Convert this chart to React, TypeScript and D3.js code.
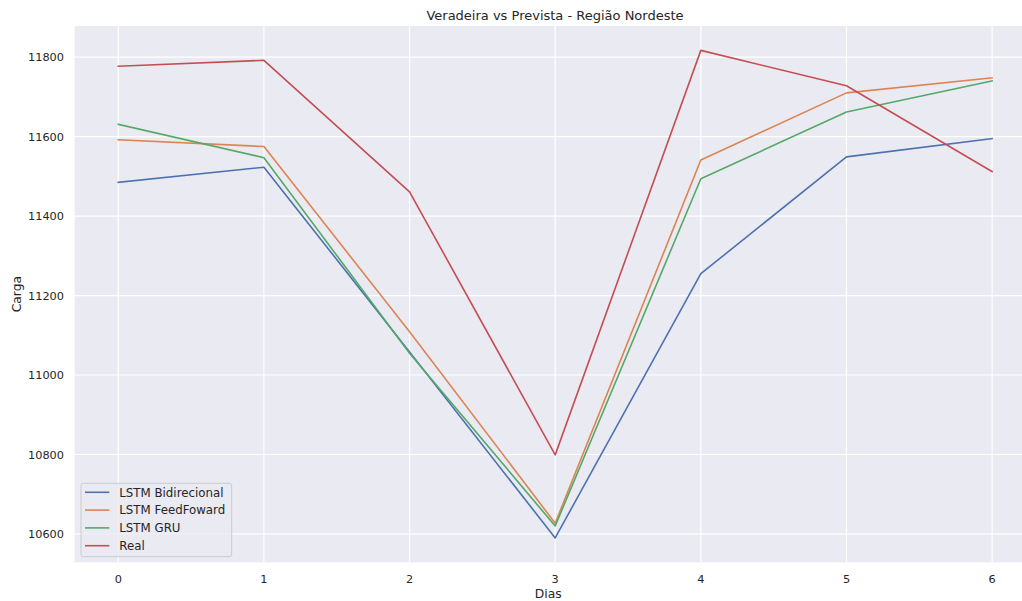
import React from "react";
import * as d3 from "d3";

const days = [0, 1, 2, 3, 4, 5, 6];
const bidirecional = [11485, 11523, 11058, 10590, 11255, 11549, 11595];
const feedfoward = [11592, 11575, 11109, 10627, 11541, 11710, 11748];
const gru = [11631, 11547, 11055, 10620, 11494, 11662, 11740];
const real = [11777, 11792, 11461, 10799, 11817, 11728, 11512];
const yTicks = [10600, 10800, 11000, 11200, 11400, 11600, 11800];

const seriesNames = ["LSTM Bidirecional", "LSTM FeedFoward", "LSTM GRU", "Real"];
const seriesColors = ["#4c72b0", "#dd8452", "#55a868", "#c44e52"];
const seriesData = [bidirecional, feedfoward, gru, real];

const W = 1022;
const H = 601;
const L = 74.6, R = 1035.8, T = 26, B = 562.3;
const FONT = "DejaVu Sans, sans-serif";
const TXT = "#262626";

export default function App() {
  const all = seriesData.flat();
  const mn = d3.min(all) as number;
  const mx = d3.max(all) as number;
  const pad = (mx - mn) * 0.05;
  const x = d3.scaleLinear().domain([-0.3, 6.3]).range([L, R]);
  const y = d3.scaleLinear().domain([mn - pad, mx + pad]).range([B, T]);
  const line = d3
    .line<number>()
    .x((_, i) => x(days[i]))
    .y((d) => y(d));

  const legX = 81, legY = 483.3, legW = 150.7, legH = 73.4;
  const rowH = 17.8;

  return (
    <svg
      width={W}
      height={H}
      style={{ position: "absolute", left: 0, top: 0 }}
      fontFamily={FONT}
    >
      <rect width={W} height={H} fill="#ffffff" />
      <defs>
        <clipPath id="plot">
          <rect x={L} y={T} width={R - L} height={B - T} />
        </clipPath>
      </defs>
      <rect x={L} y={T} width={R - L} height={B - T} fill="#eaeaf2" />
      {days.map((d) => (
        <line key={"gx" + d} x1={x(d)} x2={x(d)} y1={T} y2={B} stroke="#fff" strokeWidth={1.2} />
      ))}
      {yTicks.map((t) => (
        <line key={"gy" + t} x1={L} x2={R} y1={y(t)} y2={y(t)} stroke="#fff" strokeWidth={1.2} />
      ))}
      <g clipPath="url(#plot)">
        {seriesData.map((s, i) => (
          <path
            key={seriesNames[i]}
            d={line(s) as string}
            fill="none"
            stroke={seriesColors[i]}
            strokeWidth={1.6}
            strokeLinejoin="round"
            strokeLinecap="square"
          />
        ))}
      </g>
      {days.map((d) => (
        <text key={"tx" + d} x={x(d)} y={582.5} fontSize={11.3} fill={TXT} textAnchor="middle">
          {d}
        </text>
      ))}
      {yTicks.map((t) => (
        <text key={"ty" + t} x={64} y={y(t)} dy="0.36em" fontSize={11.3} fill={TXT} textAnchor="end">
          {t}
        </text>
      ))}
      <text x={(L + R) / 2 - 7} y={597.5} fontSize={12.3} fill={TXT} textAnchor="middle">
        Dias
      </text>
      <text
        transform={`translate(20.5, ${(T + B) / 2}) rotate(-90)`}
        fontSize={12.3}
        fill={TXT}
        textAnchor="middle"
      >
        Carga
      </text>
      <text x={555} y={19.5} fontSize={13} fill={TXT} textAnchor="middle">
        Veradeira vs Prevista - Região Nordeste
      </text>
      <rect
        x={legX}
        y={legY}
        width={legW}
        height={legH}
        rx={2.5}
        fill="#eaeaf2"
        fillOpacity={0.8}
        stroke="#cccccc"
        strokeWidth={1}
      />
      {seriesNames.map((n, i) => {
        const cy = legY + 9 + i * rowH;
        return (
          <g key={"lg" + n}>
            <line x1={85} x2={109.3} y1={cy} y2={cy} stroke={seriesColors[i]} strokeWidth={1.6} />
            <text x={119.3} y={cy} dy="0.36em" fontSize={11.8} fill={TXT}>
              {n}
            </text>
          </g>
        );
      })}
    </svg>
  );
}
